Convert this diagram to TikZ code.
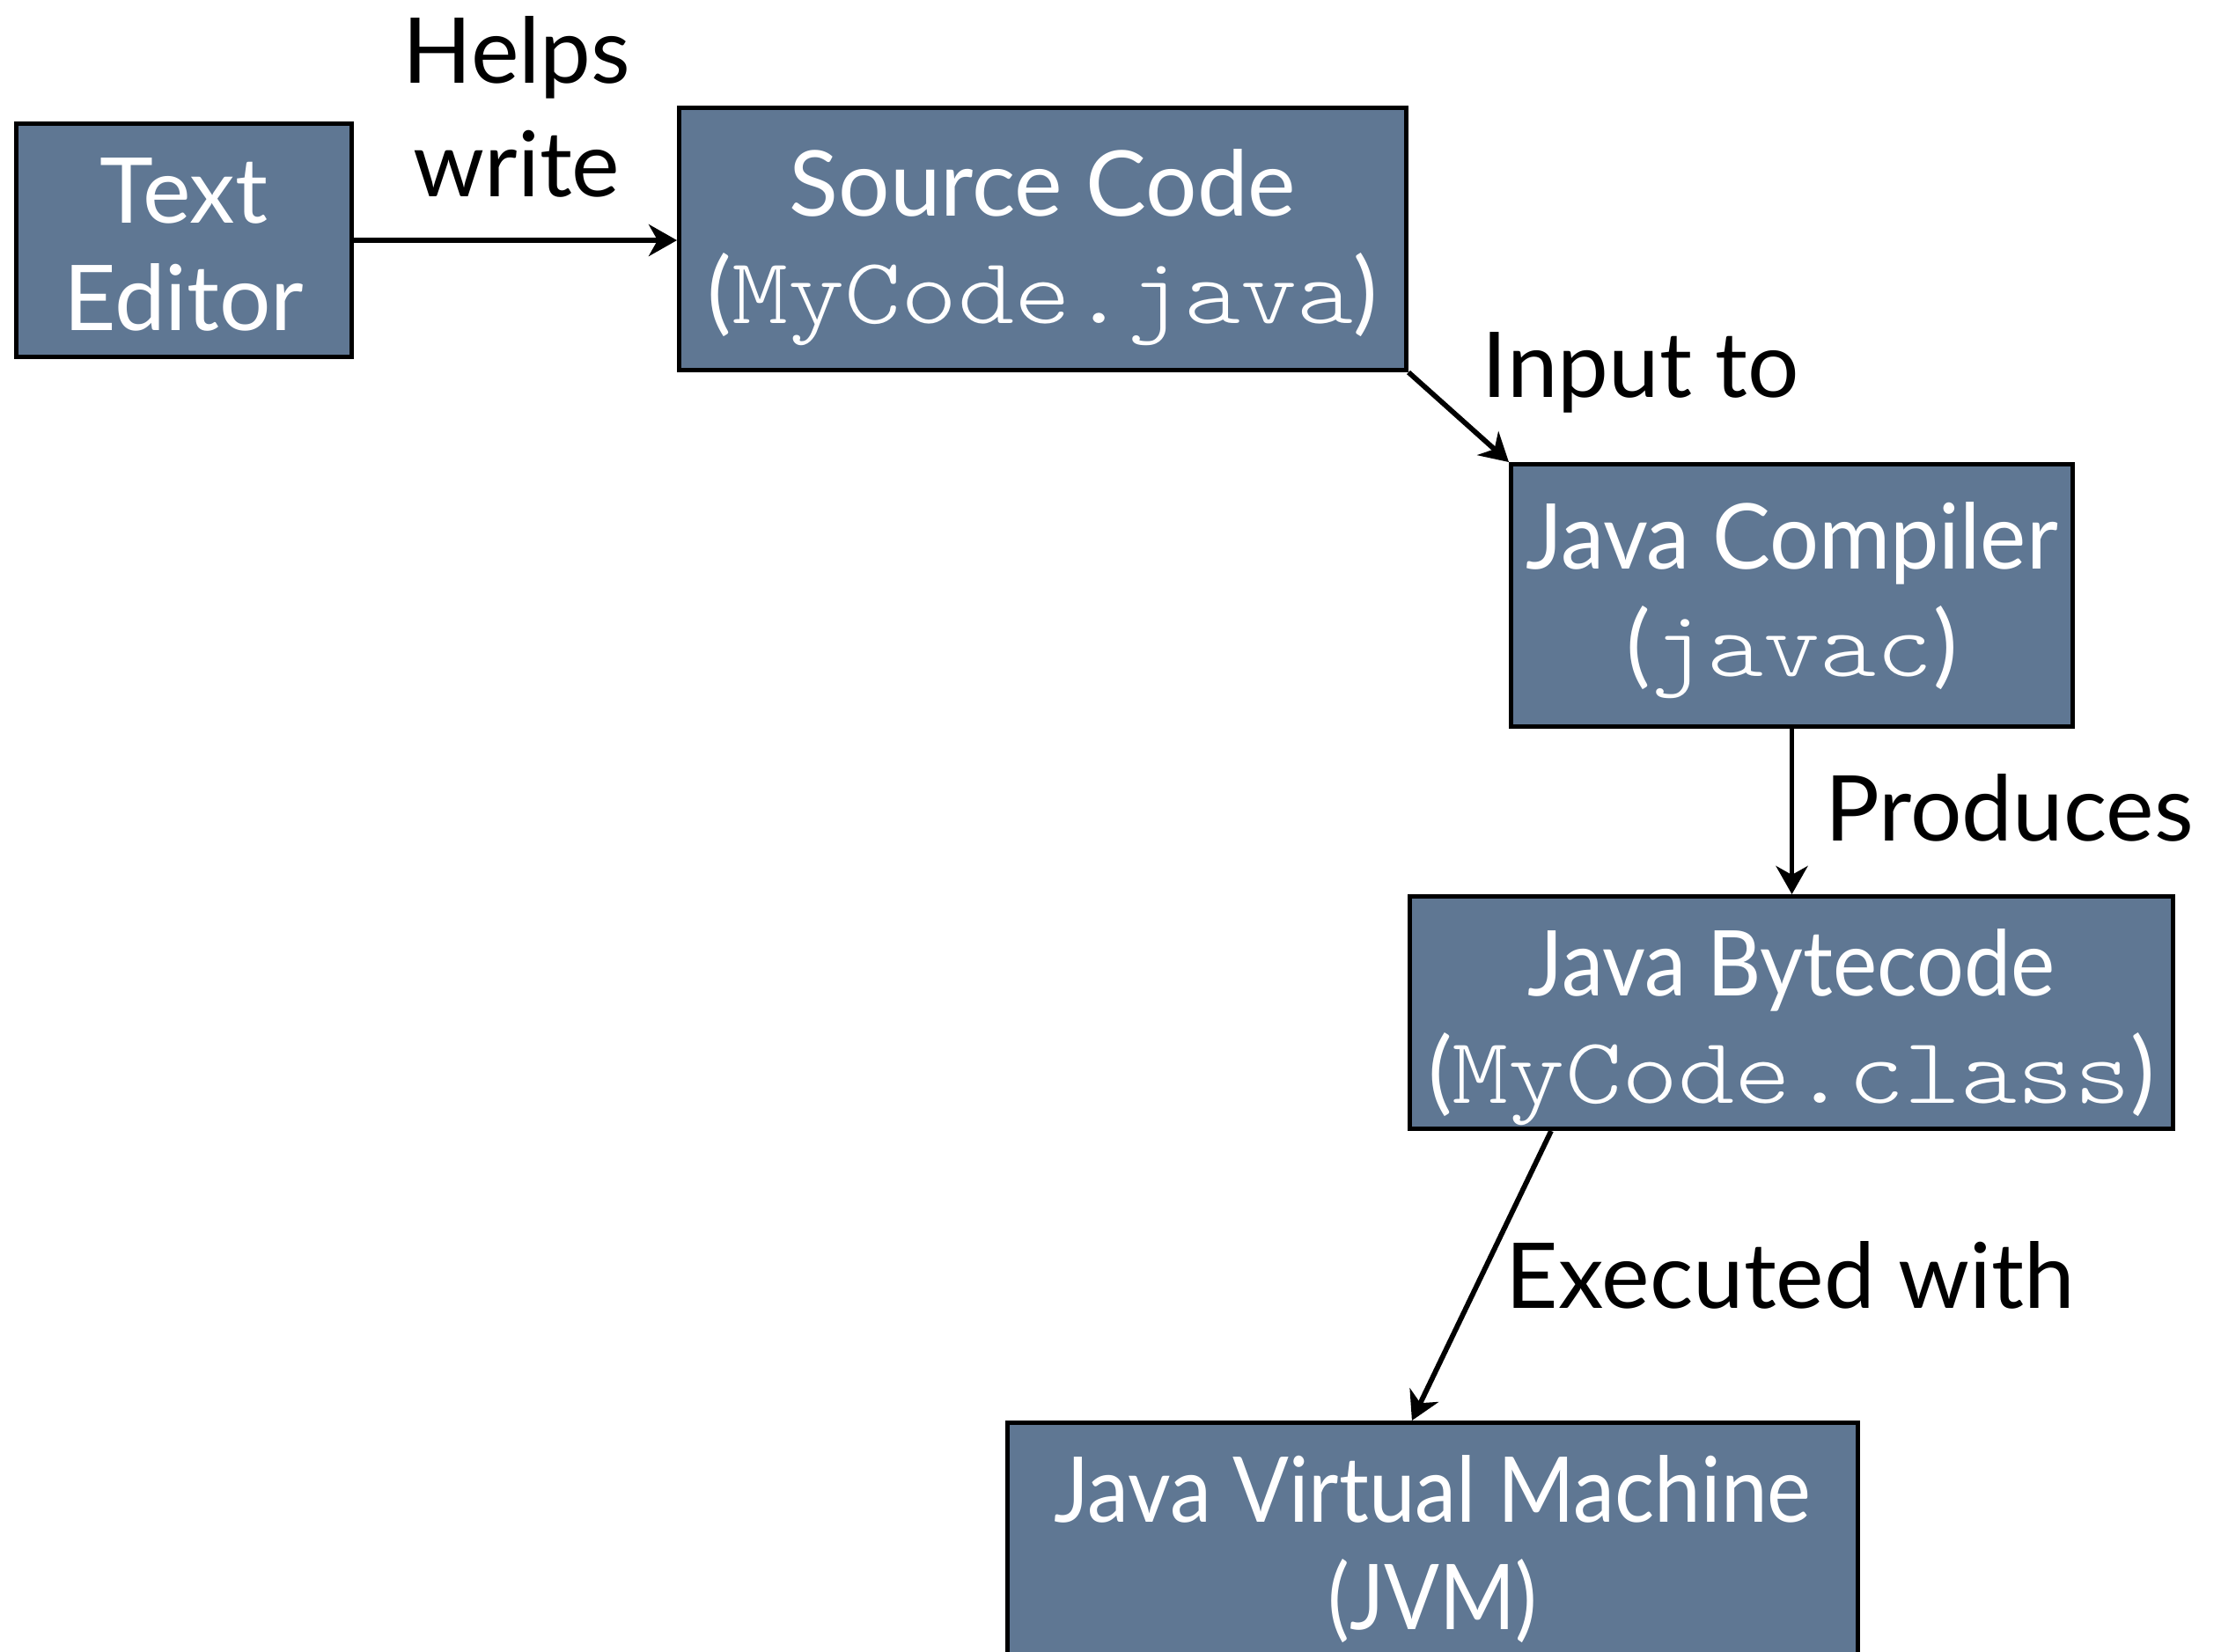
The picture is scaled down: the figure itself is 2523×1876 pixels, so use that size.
\documentclass[tikz,border=0pt]{standalone}
\usepackage{fontspec}
\usepackage{graphicx}
\setmainfont{Lato}
\newfontfamily\codefont{lmmonolt10-regular.otf}[FakeStretch=1.143]
\usetikzlibrary{arrows.meta}
\definecolor{boxblue}{RGB}{95,119,147}
\newcommand{\mycode}[1]{{\codefont\fontsize{26.75pt}{30.5pt}\selectfont #1}}
\newcommand{\narrow}[2]{\scalebox{#1}[1]{#2}}
\begin{document}
\begin{tikzpicture}[x=0.25pt,y=-0.25pt,
  box/.style={draw=black, line width=1.25pt, fill=boxblue, text=white, align=center,
    inner sep=0pt, text depth=0pt, font=\fontsize{25.8pt}{30.5pt}\selectfont},
  lbl/.style={text=black, inner sep=0pt, font=\fontsize{25.8pt}{32.25pt}\selectfont},
  conn/.style={line width=1.45pt, -{Stealth[length=8pt,width=9pt,inset=2.5pt]}}]
\useasboundingbox (0,0) rectangle (2523,1876);
\clip (0,0) rectangle (2523,1876);
\fill[white] (0,0) rectangle (2523,1876);

\node[box, minimum width=95.25pt, minimum height=66.25pt, text height=51pt] (editor) at (209,273) {Text\\Editor};
\node[box, minimum width=206.5pt, minimum height=74.5pt, text height=47.75pt] (source) at (1184.5,271.5) {Source Code\\(\mycode{MyCode.java})};
\node[box, minimum width=159.5pt, minimum height=74.5pt, text height=45.75pt] (compiler) at (2035.5,676.5) {\narrow{0.957}{Java Compiler}\\(\mycode{javac})};
\node[box, minimum width=216.75pt, minimum height=66pt, text height=51.5pt] (bytecode) at (2035,1150.5) {\narrow{0.92}{Java Bytecode}\\(\mycode{MyCode.class})};
\node[box, anchor=north, minimum width=241.5pt, minimum height=70pt, text height=47.5pt] (jvm) at (1627.5,1614) {\narrow{0.915}{Java Virtual Machine}\\\narrow{0.9}{(JVM)}};

\node[lbl, anchor=base, align=center] (lhelps) at (587,223) {Helps\\write};
\node[lbl, anchor=base west] (linput) at (1683,451) {Input to};
\node[lbl, anchor=base west] (lprod) at (2073,955) {Produces};
\node[lbl, anchor=base west] (lexec) at (1710,1486) {Executed with};

\draw[conn] (editor.east) -- (editor.east -| source.west);
\draw[conn] (source.south east) -- (compiler.north west);
\draw[conn] (compiler.south) -- (compiler.south |- bytecode.north);
\draw[conn] ([xshift=-68.25pt]bytecode.south) -- ([xshift=-5.9pt]jvm.north);
\end{tikzpicture}
\end{document}
